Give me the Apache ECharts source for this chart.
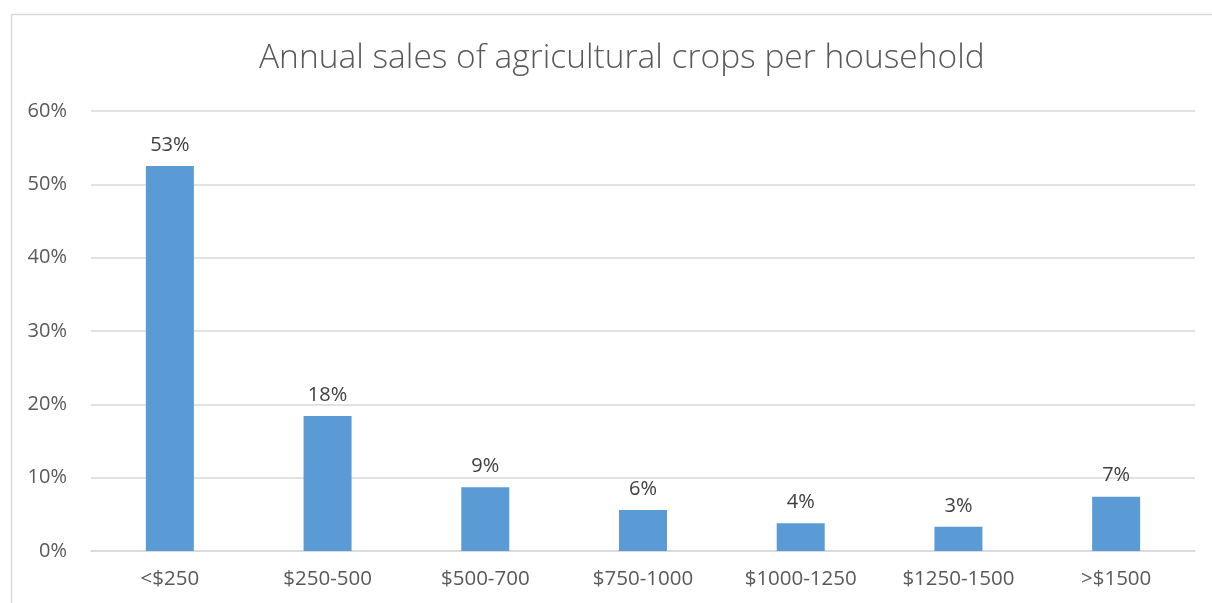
<!DOCTYPE html>
<html>
<head>
<meta charset="utf-8">
<script src="https://cdn.jsdelivr.net/npm/echarts@6/dist/echarts.min.js"></script>
<style>html,body{margin:0;padding:0;background:#fff}#c{width:1212px;height:603px}</style>
</head>
<body>
<div id="c"></div>
<script>
const titleText = 'Annual sales of agricultural crops per household';
const categories = ['<$250', '$250-500', '$500-700', '$750-1000', '$1000-1250', '$1250-1500', '>$1500'];
const shares = [52.5, 18.4, 8.7, 5.6, 3.8, 3.3, 7.4];
const yTicks = [0, 10, 20, 30, 40, 50, 60];

const chart = echarts.init(document.getElementById('c'), null, {renderer: 'canvas'});
const fontFam = '"Open Sans", "Liberation Sans", sans-serif';
chart.setOption({
  animation: false,
  graphic: [{
    type: 'rect', left: 9, top: 12, shape: {width: 1400, height: 800},
    style: {fill: 'none', stroke: '#d9d9d9', lineWidth: 1.5}, silent: true
  }],
  title: {
    text: titleText, left: 254, top: 36,
    textStyle: {fontFamily: fontFam, fontWeight: 300, fontSize: 33.5, color: '#595959'}
  },
  grid: {left: 91, right: 17, top: 111, bottom: 52},
  xAxis: {
    type: 'category', data: categories,
    axisTick: {show: false},
    axisLine: {lineStyle: {color: '#d9d9d9', width: 1.5}},
    axisLabel: {fontFamily: fontFam, fontSize: 20.5, color: '#595959', margin: 18}
  },
  yAxis: {
    type: 'value', min: yTicks[0], max: yTicks[yTicks.length - 1], interval: 10,
    axisLine: {show: false}, axisTick: {show: false},
    splitLine: {lineStyle: {color: '#d9d9d9', width: 1.5}},
    axisLabel: {fontFamily: fontFam, fontSize: 20, color: '#595959', margin: 24, formatter: v => v + '%'}
  },
  series: [{
    type: 'bar', data: shares, barWidth: 48,
    itemStyle: {color: '#5b9bd5'},
    label: {
      show: true, position: 'top', distance: 11,
      fontFamily: fontFam, fontSize: 20, color: '#404040',
      formatter: p => Math.round(p.value) + '%'
    }
  }]
});
</script>
</body>
</html>
